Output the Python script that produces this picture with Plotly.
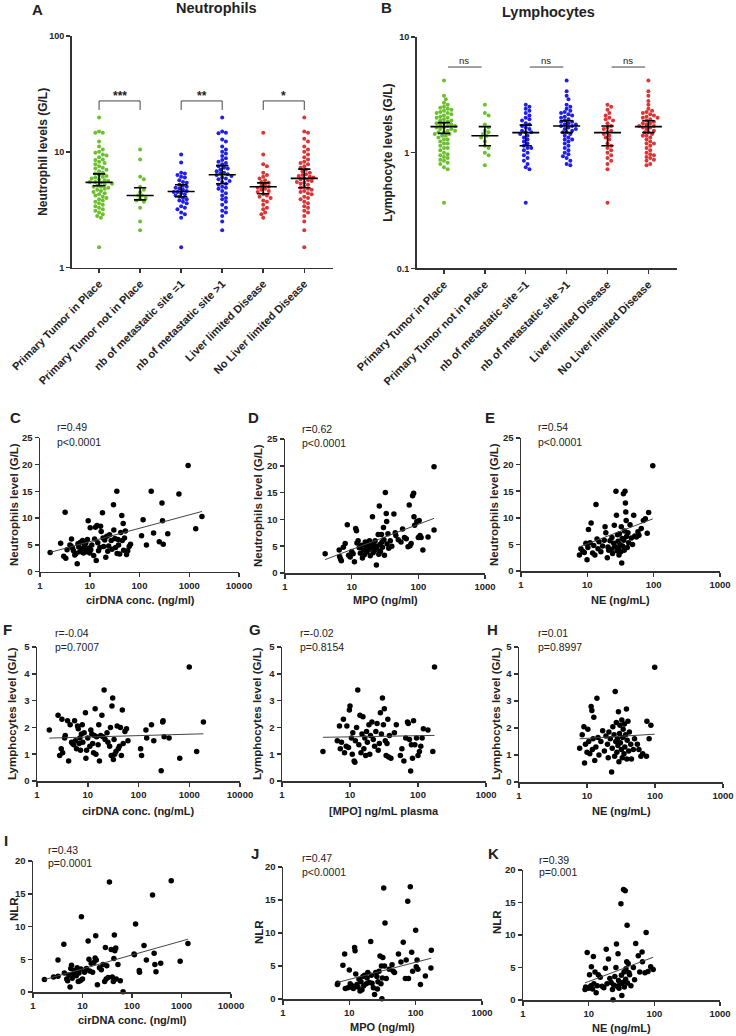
import numpy as np
import plotly.graph_objects as go

W, H = 736, 1036
FONT = "Arial, Liberation Sans, sans-serif"

# ---------------- data: dot plots (A, B) ----------------
cats = ["Primary Tumor in Place", "Primary Tumor not in Place", "nb of metastatic site =1",
        "nb of metastatic site >1", "Liver limited Disease", "No Liver limited Disease"]
cat_colors = ["#6cc02e", "#6cc02e", "#1f1fe8", "#1f1fe8", "#dc3535", "#dc3535"]

neut_g1 = [19.8, 15, 14.6, 14.6, 12.3, 11.1, 10.5, 10, 9.8, 9.5, 9.3, 9.0, 8.6, 8.5, 8.2, 8.0, 7.8, 7.5,
           7.3, 7.2, 7.0, 6.8, 6.6, 6.5, 6.3, 6.2, 6.1, 6.0, 5.9, 5.8, 5.7, 5.6, 5.5, 5.5, 5.4, 5.3, 5.2,
           5.1, 5.0, 5.0, 4.9, 4.8, 4.7, 4.6, 4.5, 4.4, 4.3, 4.2, 4.1, 4.0, 3.9, 3.8, 3.7, 3.6, 3.5, 3.4,
           3.3, 3.2, 3.1, 3.0, 2.9, 2.8, 2.7, 1.5]
neut_g2 = [10.5, 8.6, 6.1, 5.8, 5.0, 4.7, 4.5, 4.2, 4.2, 4.0, 3.9, 3.8, 3.7, 3.3, 2.5, 2.1]
neut_g3 = [9.5, 8.1, 6.6, 6.5, 6.3, 6.1, 6.0, 5.7, 5.5, 5.4, 5.2, 5.1, 5.0, 4.9, 4.8, 4.7, 4.6, 4.5, 4.5,
           4.4, 4.3, 4.2, 4.1, 4.0, 3.9, 3.8, 3.7, 3.6, 3.4, 3.3, 3.2, 3.0, 2.9, 2.7, 1.5]
neut_g4 = [19.8, 15, 14.6, 14.5, 12.8, 12.3, 11.1, 10.5, 10.0, 9.7, 9.2, 8.8, 8.5, 8.2, 8.0, 7.8, 7.5,
           7.3, 7.2, 7.0, 6.8, 6.6, 6.5, 6.4, 6.3, 6.2, 6.0, 5.9, 5.8, 5.6, 5.5, 5.3, 5.2, 5.0, 4.9,
           4.8, 4.6, 4.4, 4.2, 4.0, 3.9, 3.7, 3.5, 3.3, 3.1, 3.0, 2.8, 2.5, 2.1]
neut_g5 = [14.6, 9.5, 7.8, 7.5, 6.6, 6.3, 6.1, 5.9, 5.7, 5.5, 5.4, 5.2, 5.1, 5.0, 4.9, 4.8, 4.7, 4.6,
           4.5, 4.3, 4.2, 4.1, 4.0, 3.8, 3.7, 3.5, 3.3, 3.2, 3.0, 2.9, 2.7]
neut_g6 = [19.8, 15, 14.6, 13, 12.3, 11.1, 10.5, 10.0, 9.5, 9.0, 8.6, 8.2, 8.0, 7.8, 7.5, 7.3, 7.0,
           6.8, 6.6, 6.4, 6.3, 6.2, 6.1, 6.0, 5.9, 5.8, 5.7, 5.6, 5.5, 5.4, 5.3, 5.2, 5.0, 4.9, 4.8,
           4.7, 4.6, 4.5, 4.4, 4.3, 4.1, 4.0, 3.9, 3.7, 3.6, 3.4, 3.3, 3.1, 3.0, 2.8, 2.5, 2.1, 1.5]
neut_median = [5.45, 4.2, 4.55, 6.35, 5.0, 5.9]
neut_ci_lo = [5.1, 3.85, 4.1, 5.3, 4.35, 4.9]
neut_ci_hi = [6.45, 4.9, 5.2, 7.6, 5.4, 7.1]

lymph_g1 = [4.2, 3.1, 2.9, 2.7, 2.6, 2.5, 2.45, 2.4, 2.35, 2.3, 2.25, 2.2, 2.2, 2.15, 2.1, 2.05, 2.0, 2.0,
            1.95, 1.9, 1.9, 1.85, 1.8, 1.8, 1.75, 1.75, 1.7, 1.7, 1.65, 1.65, 1.6, 1.6, 1.55, 1.55, 1.5,
            1.5, 1.45, 1.45, 1.4, 1.4, 1.35, 1.3, 1.3, 1.25, 1.2, 1.2, 1.15, 1.1, 1.1, 1.05, 1.0, 0.97,
            0.95, 0.92, 0.9, 0.87, 0.85, 0.82, 0.8, 0.75, 0.72, 0.37]
lymph_g2 = [2.6, 2.2, 2.1, 1.75, 1.65, 1.55, 1.5, 1.45, 1.4, 1.35, 1.25, 1.15, 1.1, 1.0, 0.95, 0.78]
lymph_g3 = [2.6, 2.5, 2.4, 2.3, 2.2, 2.1, 2.0, 1.95, 1.9, 1.8, 1.75, 1.7, 1.65, 1.6, 1.55, 1.5, 1.5, 1.45,
            1.4, 1.35, 1.3, 1.25, 1.2, 1.15, 1.1, 1.1, 1.05, 1.0, 0.95, 0.9, 0.85, 0.8, 0.75, 0.72, 0.37]
lymph_g4 = [4.2, 3.4, 3.1, 2.9, 2.6, 2.5, 2.4, 2.3, 2.25, 2.2, 2.15, 2.1, 2.05, 2.0, 1.95, 1.9, 1.85,
            1.85, 1.8, 1.75, 1.75, 1.7, 1.7, 1.65, 1.6, 1.6, 1.55, 1.5, 1.5, 1.45, 1.4, 1.35, 1.3, 1.3,
            1.25, 1.2, 1.15, 1.1, 1.05, 1.0, 0.97, 0.93, 0.9, 0.85, 0.8, 0.78]
lymph_g5 = [2.6, 2.5, 2.35, 2.2, 2.1, 2.0, 1.95, 1.9, 1.8, 1.7, 1.65, 1.6, 1.55, 1.5, 1.45, 1.4, 1.35,
            1.3, 1.2, 1.15, 1.1, 1.05, 1.0, 0.95, 0.9, 0.85, 0.8, 0.72, 0.37]
lymph_g6 = [4.2, 3.4, 3.1, 2.8, 2.6, 2.4, 2.3, 2.25, 2.2, 2.15, 2.1, 2.05, 2.0, 2.0, 1.95, 1.9, 1.85, 1.8,
            1.8, 1.75, 1.7, 1.7, 1.65, 1.65, 1.6, 1.55, 1.5, 1.5, 1.45, 1.4, 1.4, 1.35, 1.3, 1.25, 1.2,
            1.2, 1.15, 1.1, 1.05, 1.0, 0.97, 0.95, 0.92, 0.9, 0.87, 0.85, 0.8, 0.78]
lymph_median = [1.68, 1.40, 1.49, 1.70, 1.49, 1.68]
lymph_ci_lo = [1.47, 1.15, 1.15, 1.49, 1.15, 1.49]
lymph_ci_hi = [1.82, 1.68, 1.73, 1.89, 1.70, 1.89]

neut_sig = ["***", "**", "*"]
neut_bracket = (23.0, 27.5, 30.5)   # tick bottom, bar, label
lymph_sig = ["ns", "ns", "ns"]
lymph_bracket = (5.5, 6.3)           # bar, label

# ---------------- data: correlation panels ----------------
panel_c = [(1.6, 3.6), (2.6, 5.3), (3.2, 11.1), (3.0, 2.9), (3.3, 2.5), (3.5, 4.1), (4.0, 5.0), (4.2, 4.8),
           (4.3, 6.1), (4.5, 4.4), (4.7, 3.9), (5.0, 3.1), (5.3, 3.4), (5.6, 1.5), (5.8, 5.2), (6.0, 4.6),
           (6.3, 3.7), (6.5, 5.5), (7.0, 4.3), (7.2, 5.8), (7.5, 3.5), (7.8, 4.9), (8.0, 4.0), (8.3, 5.3),
           (8.6, 3.7), (9.0, 6.0), (9.3, 9.5), (9.6, 4.4), (10, 3.5), (10.2, 8.2), (10.5, 4.1), (11, 5.0),
           (12, 3.0), (12.5, 6.1), (13, 8.3), (13.5, 2.1), (14, 8.6), (14.5, 5.4), (15, 3.9), (16, 4.5),
           (16.5, 8.5), (17, 7.5), (18, 11.0), (18.5, 6.3), (19, 4.7), (20, 5.9), (21, 2.7), (22, 6.6),
           (23, 3.8), (24, 4.8), (25, 6.9), (27, 5.8), (28, 4.2), (30, 12.5), (30.5, 7.8), (32, 6.2),
           (33, 4.5), (35, 15.0), (35.5, 3.4), (37, 6.0), (38, 5.0), (40, 3.3), (42, 7.3), (44, 10.5),
           (45, 5.8), (47, 9.0), (48, 4.0), (50, 6.3), (52, 7.6), (55, 3.2), (58, 3.9), (62, 4.7),
           (66, 5.1), (110, 6.7), (118, 9.7), (138, 5.0), (172, 15.0), (192, 7.2), (250, 5.6),
           (283, 12.8), (290, 9.5), (300, 5.1), (370, 7.1), (620, 14.5), (950, 19.8), (1350, 8.0),
           (1800, 10.3)]
panel_d = [(4.0, 3.6), (6.5, 4.3), (6.6, 3.1), (6.8, 2.6), (7.0, 2.3), (7.5, 4.8), (8.0, 5.5), (8.6, 9.0),
           (9.0, 3.3), (9.5, 3.0), (10, 4.0), (10.5, 3.6), (11, 2.1), (11.5, 8.3), (11.8, 7.9), (12, 5.6),
           (12.5, 6.0), (13, 4.7), (13.5, 3.7), (14, 5.2), (14.5, 2.8), (15, 4.3), (15.5, 3.4), (16, 5.8),
           (16.5, 4.9), (17, 3.9), (17.5, 5.4), (18, 4.4), (18.5, 6.0), (19, 3.2), (19.5, 4.7), (20, 5.1),
           (20.5, 10.5), (21, 3.8), (21.5, 5.6), (22, 4.2), (22.5, 6.0), (23, 5.0), (23.5, 1.5), (24, 4.5),
           (25, 7.2), (25.5, 3.5), (26, 12.5), (26.5, 5.3), (27, 4.0), (28, 7.2), (28.5, 5.8), (29, 4.8),
           (30, 8.5), (30.5, 6.2), (31, 3.3), (32, 15.0), (33, 11.1), (33.5, 9.6), (34, 5.4), (35, 7.3),
           (36, 4.6), (38, 6.0), (40, 5.0), (43, 11.0), (45, 7.5), (46, 7.0), (50, 6.2), (55, 5.8),
           (58, 8.2), (62, 6.6), (66, 6.4), (70, 4.9), (73, 12.7), (75, 5.1), (78, 5.5), (82, 14.4),
           (85, 14.9), (86, 10.5), (88, 8.9), (95, 9.6), (100, 6.6), (103, 9.8), (106, 7.0), (110, 6.6),
           (117, 4.3), (140, 6.7), (172, 8.0), (172, 19.8)]
panel_e = [(7.6, 3.0), (8, 4.2), (8.5, 3.7), (9.0, 3.5), (9.5, 5.2), (9.9, 2.1), (10.2, 4.4), (10.4, 7.8),
           (11, 5.3), (11.4, 9.0), (12, 3.4), (12.5, 4.8), (13, 3.0), (13.5, 12.5), (14, 6.0), (14.5, 4.2),
           (15, 5.5), (16, 3.6), (17, 4.7), (18, 5.8), (18.5, 8.3), (19, 7.2), (20, 2.5), (20.5, 4.5),
           (21, 3.9), (22, 5.7), (23, 4.1), (23.5, 6.3), (24, 3.3), (25, 5.2), (25.5, 8.6), (26, 4.6),
           (27, 15.0), (27.5, 10.5), (28, 3.8), (28.5, 6.8), (29, 5.6), (29.5, 4.3), (30, 3.0), (30.5, 7.0),
           (31, 5.0), (32, 3.6), (32.5, 8.3), (33, 1.5), (33.5, 6.1), (34, 4.7), (35, 14.5), (35.5, 5.8),
           (36, 3.9), (36.5, 7.5), (37, 15.0), (37.5, 12.8), (38, 11.1), (38.5, 9.5), (39, 6.5), (40, 4.4),
           (41, 7.2), (42, 5.3), (44, 8.7), (46, 6.2), (48, 5.0), (50, 10.5), (52, 6.6), (55, 6.4),
           (58, 7.4), (60, 6.7), (65, 8.0), (70, 9.5), (75, 9.8), (80, 7.1), (84, 11.0), (97, 19.8)]
panel_f = [(1.75, 1.9), (2.6, 2.45), (2.8, 0.95), (3.0, 1.2), (3.1, 2.3), (3.2, 1.05), (3.5, 1.6), (3.6, 1.7),
           (4.0, 2.25), (4.2, 0.75), (4.5, 2.1), (4.8, 1.45), (5.0, 1.4), (5.3, 1.35), (5.5, 2.25),
           (5.7, 1.5), (6.0, 1.2), (6.3, 2.05), (6.5, 1.95), (6.8, 1.4), (7.0, 1.6), (7.2, 1.15), (7.5, 1.75),
           (7.8, 2.1), (8.0, 1.45), (8.5, 1.8), (9.0, 2.55), (9.2, 0.85), (9.5, 1.15), (10, 1.6), (11, 1.3),
           (11.5, 1.9), (12, 1.75), (12.5, 1.4), (13, 1.05), (13.5, 1.7), (14, 2.7), (14.5, 1.0), (15, 1.65),
           (16, 1.35), (16.5, 2.1), (17, 0.75), (18, 1.7), (19, 2.45), (20, 1.65), (21, 3.4), (22, 1.55),
           (24, 1.8), (25, 1.45), (27, 1.3), (28, 2.0), (29, 0.95), (30, 2.8), (31, 3.1), (32, 0.8),
           (33, 1.55), (34, 1.0), (36, 1.1), (38, 2.05), (40, 1.2), (42, 1.3), (44, 2.0), (46, 0.95),
           (48, 2.65), (50, 1.4), (54, 1.85), (58, 1.95), (62, 1.5), (110, 1.2), (115, 0.95), (140, 1.9),
           (145, 1.6), (180, 2.1), (200, 1.5), (280, 0.38), (300, 2.2), (305, 2.25), (320, 1.65),
           (400, 1.6), (650, 0.85), (1000, 4.25), (1400, 1.1), (1900, 2.2)]
panel_g = [(4.0, 1.1), (6.5, 1.5), (7.0, 2.05), (7.2, 1.2), (7.5, 1.45), (8.0, 2.3), (8.3, 1.05), (8.8, 1.3),
           (9.0, 2.05), (9.5, 1.25), (9.8, 2.65), (10, 2.8), (10.5, 1.6), (10.8, 1.0), (11, 1.8),
           (11.5, 0.75), (11.8, 0.7), (12, 1.5), (12.5, 2.0), (13, 3.4), (13.5, 1.35), (14, 2.45),
           (14.5, 1.05), (15, 1.75), (15.5, 2.4), (16, 1.2), (16.5, 1.6), (17, 0.95), (17.5, 1.85),
           (18, 1.45), (19, 2.1), (19.5, 1.0), (20, 1.7), (21, 2.2), (22, 1.55), (23, 1.3), (24, 1.85),
           (25, 2.15), (26, 1.15), (27, 1.4), (28, 2.55), (29, 1.75), (30, 3.1), (31, 2.1), (32, 2.7),
           (33, 1.5), (34, 0.95), (35, 1.4), (36, 2.3), (37, 0.9), (38, 1.7), (40, 0.85), (45, 1.8),
           (48, 2.1), (55, 0.95), (58, 1.2), (62, 0.75), (66, 1.6), (70, 2.2), (72, 2.15), (75, 1.55),
           (78, 0.37), (80, 1.35), (83, 0.85), (86, 2.25), (90, 1.35), (95, 1.6), (100, 0.95), (105, 1.1),
           (110, 1.3), (115, 1.6), (120, 1.95), (140, 1.9), (165, 1.1), (175, 4.25)]
panel_h = [(7.8, 1.25), (8.5, 1.75), (9.0, 2.05), (9.2, 0.7), (9.5, 1.4), (10, 1.1), (10.3, 1.95), (10.6, 1.5),
           (11, 1.05), (11.5, 2.8), (11.8, 2.65), (12, 1.2), (12.3, 1.6), (12.6, 2.4), (13, 0.8), (13.5, 1.3),
           (14, 3.1), (14.5, 1.65), (15, 1.0), (16, 1.5), (17, 1.9), (18, 1.15), (19, 1.7), (20, 1.4),
           (20.5, 0.9), (21, 1.85), (22, 1.6), (23, 0.37), (23.5, 1.25), (24, 2.05), (25, 1.75), (25.5, 0.95),
           (26, 3.35), (26.5, 1.5), (27, 2.2), (27.5, 1.1), (28, 1.6), (28.5, 1.35), (29, 2.6), (29.5, 0.75),
           (30, 1.8), (30.5, 2.1), (31, 1.45), (32, 1.2), (32.5, 2.3), (33, 0.9), (33.5, 1.65), (34, 1.95),
           (35, 1.05), (35.5, 2.15), (36, 1.3), (37, 1.75), (38, 2.7), (38.5, 0.85), (39, 1.55), (40, 2.25),
           (41, 1.15), (42, 1.85), (44, 1.4), (45, 0.85), (48, 1.2), (50, 1.6), (55, 1.4), (58, 1.2),
           (62, 0.95), (66, 1.05), (75, 0.95), (76, 2.25), (82, 1.6), (87, 2.1), (99, 4.25)]
panel_i = [(1.7, 1.9), (2.6, 2.3), (3.2, 2.4), (3.2, 4.9), (4.2, 7.3), (4.3, 2.9), (4.8, 2.0), (5.0, 1.7),
           (5.3, 2.6), (5.6, 0.75), (5.8, 3.6), (6.0, 4.1), (6.2, 2.1), (6.5, 2.8), (7.0, 3.3), (7.5, 2.5),
           (7.8, 3.7), (8.2, 1.6), (8.5, 2.9), (9.0, 1.7), (9.3, 3.5), (9.5, 11.5), (10, 2.0), (11, 3.0),
           (12, 3.6), (13, 7.8), (13.5, 5.0), (14, 3.2), (15, 4.4), (16, 3.0), (17, 4.5), (18, 5.2),
           (18.5, 8.6), (19, 4.9), (20, 1.1), (22, 3.7), (24, 3.4), (26, 4.2), (28, 1.6), (29, 6.8),
           (30, 2.0), (31, 4.0), (33, 2.2), (35, 16.8), (38, 6.5), (40, 2.3), (42, 1.6), (43, 5.1),
           (44, 8.7), (45, 6.3), (47, 6.7), (48, 2.0), (52, 4.2), (58, 1.7), (66, 0.05), (110, 5.8),
           (112, 5.7), (118, 10.4), (140, 3.3), (142, 3.0), (175, 7.1), (195, 4.9), (260, 14.8),
           (280, 5.9), (290, 4.2), (305, 3.1), (380, 4.4), (620, 17.0), (940, 4.7), (1350, 7.4)]
panel_j = [(6.6, 2.2), (6.7, 2.4), (8.0, 5.1), (8.5, 6.8), (8.7, 1.6), (9.5, 1.7), (10, 4.4), (10.3, 2.3),
           (10.5, 1.8), (11, 2.0), (11.5, 1.6), (12, 7.8), (12.2, 7.3), (12.5, 3.8), (13, 2.2), (13.5, 1.8),
           (14, 3.0), (14.5, 1.2), (15, 2.6), (15.5, 1.4), (16, 3.4), (16.5, 2.0), (17, 3.6), (18, 2.3),
           (18.5, 3.2), (19, 4.0), (20, 2.5), (21, 8.7), (21.5, 3.6), (22, 2.4), (23, 1.7), (24, 0.7),
           (25, 4.0), (26, 3.4), (26.5, 1.5), (27, 2.6), (28, 4.2), (29, 6.5), (30, 2.3), (30.5, 5.0),
           (31, 0.05), (31.5, 3.2), (32, 6.3), (33, 16.8), (34, 5.0), (34.5, 11.5), (36, 3.1), (40, 4.5),
           (44, 5.2), (46, 4.2), (48, 4.0), (55, 6.8), (60, 5.6), (65, 8.6), (70, 3.1), (72, 5.9),
           (76, 14.8), (78, 3.1), (83, 17.0), (87, 7.1), (90, 4.2), (100, 10.4), (102, 4.9), (105, 5.9),
           (108, 4.5), (118, 2.2), (140, 3.5), (170, 4.7), (172, 7.4)]
panel_k = [(8.8, 1.6), (9.0, 2.0), (9.5, 7.3), (10, 1.8), (10.3, 3.9), (10.8, 2.2), (11, 5.1), (11.5, 1.7),
           (11.8, 6.7), (12, 2.5), (12.5, 4.3), (13, 1.1), (13.5, 2.2), (14, 3.9), (15, 3.5), (16, 2.1),
           (17, 1.9), (18, 4.9), (18.5, 7.8), (19, 2.5), (20, 6.3), (21, 3.3), (22, 2.7), (23, 1.6),
           (23.5, 0.05), (24, 2.3), (25, 3.6), (26, 5.0), (26.5, 8.6), (27, 2.1), (28, 7.1), (28.5, 3.0),
           (29, 1.8), (30, 2.5), (31, 14.8), (31.5, 3.8), (32, 0.7), (33, 2.7), (34, 17.0), (34.5, 4.3),
           (35, 2.0), (36, 16.8), (36.5, 3.2), (37, 4.8), (38, 5.9), (38.5, 11.5), (39, 2.6), (40, 5.6),
           (41, 4.2), (42, 3.9), (44, 2.2), (48, 5.0), (50, 3.1), (52, 8.7), (57, 6.8), (60, 4.3),
           (65, 7.4), (66, 5.9), (72, 4.2), (75, 10.4), (80, 4.4), (88, 5.1), (96, 4.7)]

# linear fit y = a + b*log10(x)
fit_c, fit_d, fit_e = (3.1, 2.5), (-0.335, 4.71), (0.34, 4.76)
fit_f, fit_g, fit_h = (1.587, 0.053), (1.604, 0.043), (1.463, 0.154)
fit_i, fit_j, fit_k = (1.4, 2.127), (0.37, 2.6), (-0.96, 3.8)


def xd(a, b):
    return [a / W, b / W]


def yd(top, bot):
    return [1 - bot / H, 1 - top / H]


def px(x):
    return x / W


def py(y):
    return 1 - y / H


def swarm(vals, px_per_dec, dot=3.7, unit=41.0):
    """simple beeswarm: horizontal offsets (category units) so dots don't overlap"""
    ys = np.log10(np.asarray(vals, float)) * px_per_dec
    order = np.argsort(-ys)
    placed = []
    off = np.zeros(len(ys))
    for i in order:
        k = 0
        while True:
            cands = [0.0] if k == 0 else [k * dot * 0.5, -k * dot * 0.5]
            hit = None
            for c in cands:
                if all((c - qx) ** 2 + (ys[i] - qy) ** 2 >= dot ** 2 for qx, qy in placed):
                    hit = c
                    break
            if hit is not None:
                break
            k += 1
        off[i] = hit
        placed.append((hit, ys[i]))
    return off / unit


def axis(**kw):
    base = dict(showline=True, linecolor="#333", linewidth=1.5, ticks="outside", ticklen=4,
                tickwidth=1.5, tickcolor="#333", showgrid=False, zeroline=False, automargin=False,
                tickfont=dict(size=9.5, family=FONT, color="#222", weight="bold"))
    base.update(kw)
    return base


fig = go.Figure()
layout = dict(width=W, height=H, margin=dict(l=0, r=0, t=0, b=0, autoexpand=False),
              plot_bgcolor="white", paper_bgcolor="white", showlegend=False,
              font=dict(family=FONT, color="#222"))
ann = []

# ---------------- A and B ----------------
dot_panels = [
    dict(groups=[neut_g1, neut_g2, neut_g3, neut_g4, neut_g5, neut_g6], med=neut_median,
         lo=neut_ci_lo, hi=neut_ci_hi, xdom=(72, 333), ydom=(36, 267.7), yr=[0, 2],
         tv=[1, 10, 100], tt=["1", "10", "100"], xa="x", ya="y", lx="xaxis", ly="yaxis",
         ytitle="Neutrophil levels (G/L)", ytx=43, title="Neutrophils", tx=216, ty=8,
         letter="A", lxy=(37, 9)),
    dict(groups=[lymph_g1, lymph_g2, lymph_g3, lymph_g4, lymph_g5, lymph_g6], med=lymph_median,
         lo=lymph_ci_lo, hi=lymph_ci_hi, xdom=(417, 677), ydom=(37, 268.4), yr=[-1, 1],
         tv=[0.1, 1, 10], tt=["0.1", "1", "10"], xa="x2", ya="y2", lx="xaxis2", ly="yaxis2",
         ytitle="Lymphocyte levels (G/L)", ytx=388, title="Lymphocytes", tx=548, ty=12,
         letter="B", lxy=(386, 8)),
]

for p in dot_panels:
    ppd = (p["ydom"][1] - p["ydom"][0]) / 2.0
    for i, vals in enumerate(p["groups"]):
        off = swarm(vals, ppd)
        fig.add_trace(go.Scatter(x=i + off, y=vals, mode="markers", xaxis=p["xa"], yaxis=p["ya"],
                                 marker=dict(color=cat_colors[i], size=4), cliponaxis=False))
    # median with 95% CI
    lx, ly = [], []
    for i in range(6):
        lx += [i - 0.33, i + 0.33, None, i, i, None, i - 0.15, i + 0.15, None, i - 0.15, i + 0.15, None]
        ly += [p["med"][i], p["med"][i], None, p["lo"][i], p["hi"][i], None,
               p["lo"][i], p["lo"][i], None, p["hi"][i], p["hi"][i], None]
    fig.add_trace(go.Scatter(x=lx, y=ly, mode="lines", xaxis=p["xa"], yaxis=p["ya"],
                             line=dict(color="black", width=1.6), cliponaxis=False))
    layout[p["lx"]] = axis(domain=xd(*p["xdom"]), range=[-0.66, 5.7], anchor=p["ya"],
                           tickvals=list(range(6)), ticktext=cats, tickangle=-45,
                           tickfont=dict(size=11, family=FONT, color="#222", weight="bold"))
    layout[p["ly"]] = axis(domain=yd(*p["ydom"]), type="log", range=p["yr"], anchor=p["xa"],
                           tickvals=p["tv"], ticktext=p["tt"], linewidth=2,
                           tickfont=dict(size=9, family=FONT, color="#222", weight="bold"))
    ann.append(dict(text="<b>%s</b>" % p["ytitle"], x=px(p["ytx"]),
                    y=py((p["ydom"][0] + p["ydom"][1]) / 2), textangle=-90, font=dict(size=12)))
    ann.append(dict(text="<b>%s</b>" % p["title"], x=px(p["tx"]), y=py(p["ty"]), font=dict(size=14.5)))
    ann.append(dict(text="<b>%s</b>" % p["letter"], x=px(p["lxy"][0]), y=py(p["lxy"][1]),
                    font=dict(size=15)))

# brackets in A
bx, by = [], []
for k in range(3):
    i = 2 * k
    bx += [i, i, i + 1, i + 1, None]
    by += [neut_bracket[0], neut_bracket[1], neut_bracket[1], neut_bracket[0], None]
    ann.append(dict(text="<b>%s</b>" % neut_sig[k], x=i + 0.5, y=np.log10(neut_bracket[2]),
                    xref="x", yref="y", font=dict(size=12)))
fig.add_trace(go.Scatter(x=bx, y=by, mode="lines", xaxis="x", yaxis="y",
                         line=dict(color="#444", width=1)))
# ns lines in B
nx, ny = [], []
for k in range(3):
    i = 2 * k
    nx += [i + 0.1, i + 0.92, None]
    ny += [lymph_bracket[0], lymph_bracket[0], None]
    ann.append(dict(text=lymph_sig[k], x=i + 0.5, y=np.log10(lymph_bracket[1]),
                    xref="x2", yref="y2", font=dict(size=9.5)))
fig.add_trace(go.Scatter(x=nx, y=ny, mode="lines", xaxis="x2", yaxis="y2",
                         line=dict(color="#444", width=1)))

# ---------------- correlation panels ----------------
scat = [
    ("C", panel_c, fit_c, (40, 239), (437.7, 571.7), 4, 25, "cirDNA conc. (ng/ml)",
     "Neutrophils level (G/L)", "r=0.49", "p<0.0001", (15, 418), (55, 427, 442), (140, 600), (14, 505)),
    ("D", panel_d, fit_d, (285, 485), (439, 573), 3, 25, "MPO (ng/ml)",
     "Neutrophils level (G/L)", "r=0.62", "p<0.0001", (254, 418), (300, 429, 443), (385, 600), (258, 506)),
    ("E", panel_e, fit_e, (521, 720), (438, 571), 3, 25, "NE (ng/mL)",
     "Neutrophils level (G/L)", "r=0.54", "p<0.0001", (490, 417), (536, 427, 442), (620, 600), (494, 505)),
    ("F", panel_f, fit_f, (37, 240), (647, 781), 4, 5, "cirDNA conc. (ng/mL)",
     "Lymphocytes level (G/L)", "r=-0.04", "p=0.7007", (7, 629), (53, 633, 647), (138, 811), (12, 714)),
    ("G", panel_g, fit_g, (282, 486), (647, 781), 3, 5, "[MPO] ng/mL plasma",
     "Lymphocytes level (G/L)", "r=-0.02", "p=0.8154", (255, 629), (298, 633, 647), (384, 811), (257, 714)),
    ("H", panel_h, fit_h, (519, 723), (647, 782), 3, 5, "NE (ng/mL)",
     "Lymphocytes level (G/L)", "r=0.01", "p=0.8997", (492, 629), (536, 633, 647), (621, 811), (496, 714)),
    ("I", panel_i, fit_i, (33, 231), (861, 992), 4, 20, "cirDNA conc. (ng/ml)",
     "NLR", "r=0.43", "p=0.0001", (6, 840), (46, 850, 863), (132, 1020), (14, 909)),
    ("J", panel_j, fit_j, (283, 482), (867, 999), 3, 20, "MPO (ng/ml)",
     "NLR", "r=0.47", "p<0.0001", (255, 853), (300, 858, 872), (382, 1027), (259, 932)),
    ("K", panel_k, fit_k, (523, 720), (870, 1000), 3, 20, "NE (ng/mL)",
     "NLR", "r=0.39", "p=0.001", (493, 853), (537, 860, 872), (621, 1028), (497, 922)),
]

for n, (letter, pts, fit, xdm, ydm, ndec, ymax, xt, yt, rtxt, ptxt, lxy, rp, xtp, ytp) in enumerate(scat):
    k = n + 3
    xa, ya = "x%d" % k, "y%d" % k
    xs = np.array([q[0] for q in pts], float)
    ys = np.array([q[1] for q in pts], float)
    fig.add_trace(go.Scatter(x=xs, y=ys, mode="markers", xaxis=xa, yaxis=ya, cliponaxis=False,
                             marker=dict(color="black", size=5.5)))
    fx = np.array([xs.min(), xs.max()])
    fig.add_trace(go.Scatter(x=fx, y=fit[0] + fit[1] * np.log10(fx), mode="lines", xaxis=xa,
                             yaxis=ya, line=dict(color="#444", width=1)))
    tv = [10 ** d for d in range(ndec + 1)]
    layout["xaxis%d" % k] = axis(domain=xd(*xdm), type="log", range=[0, ndec], anchor=ya,
                                 tickvals=tv, ticktext=[str(v) for v in tv])
    layout["yaxis%d" % k] = axis(domain=yd(*ydm), range=[0, ymax], anchor=xa,
                                 tickvals=list(range(0, ymax + 1, 5 if ymax > 5 else 1)))
    ann.append(dict(text="<b>%s</b>" % letter, x=px(lxy[0]), y=py(lxy[1]), font=dict(size=15)))
    ann.append(dict(text=rtxt, x=px(rp[0]), y=py(rp[1]), xanchor="left", font=dict(size=10.5)))
    ann.append(dict(text=ptxt, x=px(rp[0]), y=py(rp[2]), xanchor="left", font=dict(size=10.5)))
    ann.append(dict(text="<b>%s</b>" % xt, x=px(xtp[0]), y=py(xtp[1]), font=dict(size=11)))
    ann.append(dict(text="<b>%s</b>" % yt, x=px(ytp[0]), y=py(ytp[1]), textangle=-90,
                    font=dict(size=11.5)))

for a in ann:
    a.setdefault("xref", "paper")
    a.setdefault("yref", "paper")
    a.setdefault("xanchor", "center")
    a.setdefault("yanchor", "middle")
    a["showarrow"] = False
    f = a.get("font", {})
    f.setdefault("family", FONT)
    f.setdefault("color", "#222")
    a["font"] = f
layout["annotations"] = ann

fig.update_layout(**layout)
# the page's default 8px body margin would shift the whole figure
fig.write_html("out.html", config={"displayModeBar": False, "staticPlot": True},
               post_script="document.body.style.margin = '0px';")
